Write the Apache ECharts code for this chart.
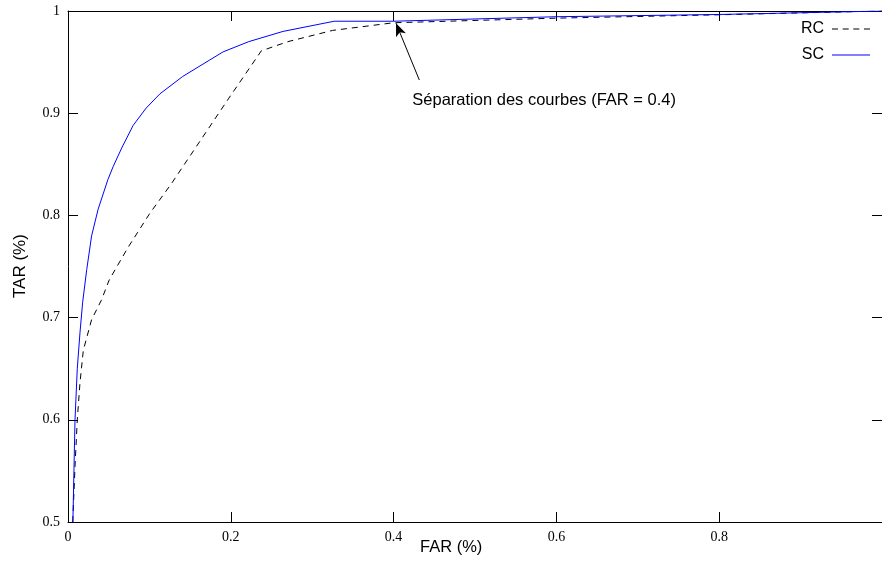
<!DOCTYPE html>
<html>
<head>
<meta charset="utf-8">
<script src="https://cdn.jsdelivr.net/npm/echarts@6/dist/echarts.min.js"></script>
<style>
  html, body { margin: 0; padding: 0; background: #fff; }
  #chart { width: 882px; height: 566px; }
</style>
</head>
<body>
<div id="chart"></div>
<script>
// FAR / TAR curves for the two classifiers
const rcFar = [0.0058, 0.0086, 0.0114, 0.0147, 0.0188, 0.029, 0.041, 0.0507, 0.074, 0.1005, 0.127, 0.197, 0.2375, 0.27, 0.325, 0.40, 0.6, 0.8, 1.0];
const rcTar = [0.5, 0.554, 0.6, 0.636, 0.668, 0.698, 0.717, 0.737, 0.769, 0.802, 0.831, 0.914, 0.961, 0.970, 0.981, 0.9885, 0.993, 0.9963, 1.0];

const scFar = [0.006, 0.0086, 0.0114, 0.0147, 0.018, 0.023, 0.029, 0.037, 0.049, 0.0556, 0.066, 0.080, 0.096, 0.113, 0.141, 0.174, 0.1905, 0.222, 0.264, 0.327, 0.40, 0.6, 0.8, 1.0];
const scTar = [0.5, 0.6, 0.65, 0.685, 0.715, 0.747, 0.78, 0.806, 0.835, 0.848, 0.866, 0.888, 0.905, 0.919, 0.936, 0.952, 0.960, 0.970, 0.980, 0.990, 0.990, 0.9944, 0.9966, 1.0];

const xTicks = [0, 0.2, 0.4, 0.6, 0.8, 1];
const yTicks = [0.5, 0.6, 0.7, 0.8, 0.9, 1];

// annotation: arrow from the caption to the point where the curves meet
const noteText = 'Séparation des courbes (FAR = 0.4)';
const noteAnchor = [0.423, 0.912];
const arrowFrom = [0.4316, 0.9325];
const arrowTo = [0.403, 0.988];

const pair = (xs, ys) => xs.map((x, i) => [x, ys[i]]);

const SANS = 'Liberation Sans, Arial, sans-serif';
const SERIF = 'Liberation Serif, Times New Roman, serif';

// legend samples: a dashed stroke and a solid stroke, 38 px long
const ICON_DASHED = 'path://M0,0h6v1h-6zM10.7,0h6v1h-6zM21.3,0h6v1h-6zM32,0h6v1h-6z';
const ICON_SOLID = 'path://M0,0h38v1h-38z';

const axisCommon = {
  type: 'value',
  splitLine: { show: false },
  axisLine: { show: true, onZero: false, lineStyle: { color: '#000', width: 1 } },
  axisTick: { show: true, inside: true, length: 10, lineStyle: { color: '#000', width: 1 } }
};

const chart = echarts.init(document.getElementById('chart'), null, { renderer: 'canvas' });

chart.setOption({
  backgroundColor: '#fff',
  animation: false,
  grid: { left: 68, top: 11, right: -1.5, bottom: 44, containLabel: false },
  xAxis: [
    Object.assign({}, axisCommon, {
      position: 'bottom', min: xTicks[0], max: xTicks[xTicks.length - 1], interval: 0.2,
      axisLabel: { show: true, margin: 8, color: '#000', fontFamily: SERIF, fontSize: 14, showMaxLabel: false }
    }),
    Object.assign({}, axisCommon, {
      position: 'top', min: xTicks[0], max: xTicks[xTicks.length - 1], interval: 0.2,
      axisLabel: { show: false }
    })
  ],
  yAxis: [
    Object.assign({}, axisCommon, {
      position: 'left', min: yTicks[0], max: yTicks[yTicks.length - 1], interval: 0.1,
      axisLabel: { show: true, margin: 8, color: '#000', fontFamily: SERIF, fontSize: 14 }
    }),
    Object.assign({}, axisCommon, {
      position: 'right', min: yTicks[0], max: yTicks[yTicks.length - 1], interval: 0.1,
      axisLabel: { show: false }
    })
  ],
  legend: {
    orient: 'vertical',
    right: 12,
    top: 20,
    padding: 0,
    align: 'right',
    itemWidth: 38,
    itemHeight: 1,
    itemGap: 8,
    symbolKeepAspect: false,
    textStyle: { color: '#000', fontFamily: SANS, fontSize: 16, lineHeight: 18, padding: [0, 3, 0, 0] },
    data: [
      { name: 'RC', icon: ICON_DASHED },
      { name: 'SC', icon: ICON_SOLID }
    ]
  },
  series: [
    {
      name: 'RC',
      type: 'line',
      data: pair(rcFar, rcTar),
      symbol: 'none',
      clip: true,
      lineStyle: { color: '#000', width: 1, type: [6, 5] },
      itemStyle: { color: '#000' },
      z: 2
    },
    {
      name: 'SC',
      type: 'line',
      data: pair(scFar, scTar),
      symbol: 'none',
      clip: true,
      lineStyle: { color: '#0000ff', width: 1 },
      itemStyle: { color: '#0000ff' },
      z: 3,
      markLine: {
        silent: true,
        animation: false,
        symbol: ['none', 'arrow'],
        symbolSize: [8, 13],
        label: { show: false },
        lineStyle: { color: '#000', width: 1, type: 'solid' },
        emphasis: { disabled: true },
        data: [[{ coord: arrowFrom }, { coord: arrowTo }]]
      },
      markPoint: {
        silent: true,
        animation: false,
        symbol: 'circle',
        symbolSize: 0,
        itemStyle: { color: 'transparent' },
        label: {
          show: true, position: 'right', distance: 0, formatter: noteText,
          color: '#000', fontFamily: SANS, fontSize: 16.5
        },
        data: [{ coord: noteAnchor }]
      }
    }
  ],
  graphic: [
    {
      type: 'text', left: 420, top: 539,
      style: { text: 'FAR (%)', fill: '#000', font: '16.5px ' + SANS }
    },
    {
      type: 'text', x: 12, y: 298, rotation: Math.PI / 2,
      style: { text: 'TAR (%)', fill: '#000', font: '17px ' + SANS, textVerticalAlign: 'top' }
    }
  ]
});
</script>
</body>
</html>
